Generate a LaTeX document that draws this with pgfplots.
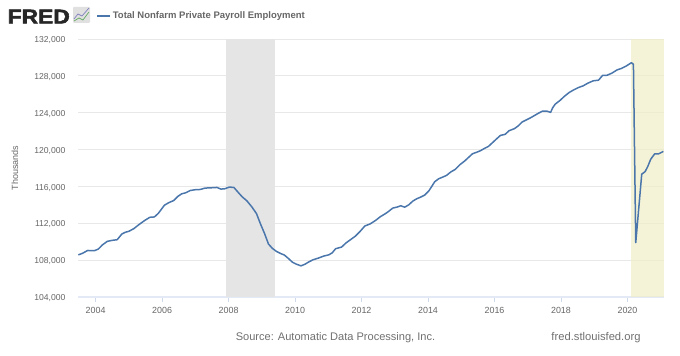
\documentclass[border=0pt]{standalone}
\usepackage{pgfplots}
\pgfplotsset{compat=1.18}
\usepackage{fontspec}
\setmainfont{Liberation Sans}
\newfontfamily\fredf[BoldFeatures={FakeBold=2.5}]{Liberation Sans}
\definecolor{fredblue}{HTML}{4A76AC}
\definecolor{gridc}{HTML}{E8E8E8}
\definecolor{axisc}{HTML}{E4EAF5}
\definecolor{tickc}{HTML}{D0D9EA}
\definecolor{labc}{HTML}{666666}
\definecolor{srcc}{HTML}{707070}
\definecolor{recc}{HTML}{E5E5E5}
\definecolor{yelc}{HTML}{F0EEC8}
\begin{document}
\begin{tikzpicture}[x=1pt,y=1pt]
\path[use as bounding box] (0,0) rectangle (680,356);
\begin{axis}[
  at={(78pt,59pt)}, anchor=south west,
  scale only axis, width=586pt, height=258pt,
  xmin=2003.47, xmax=2021.1, ymin=104000, ymax=132000,
  xtick={2004,2006,...,2020},
  ytick={104000,108000,...,132000},
  scaled y ticks=false,
  /pgf/number format/assume math mode=true,
  /pgf/number format/fixed,
  x tick label style={/pgf/number format/1000 sep={}, font=\fontsize{8.9}{11}\selectfont, text=labc, yshift=-2pt},
  y tick label style={/pgf/number format/1000 sep={,}, font=\fontsize{8.6}{11}\selectfont, text=labc, xshift=-4pt, yshift=-1.2pt},
  ymajorgrids, grid style={gridc, line width=0.9pt},
  axis x line=bottom,
  axis y line=left,
  x axis line style={axisc, line width=1.6pt, -},
  y axis line style={draw=none},
  xtick style={tickc, line width=0.8pt},
  ytick style={draw=none},
  tick align=outside, major tick length=5pt,
  clip=false,
  legend style={draw=none, fill=none, at={(axis description cs:0.031,1.089)}, anchor=west,
    font=\fontsize{9.5}{11}\selectfont\bfseries\color{labc}, inner sep=0pt, row sep=0pt,
    /tikz/every even column/.append style={column sep=3pt}},
  legend image code/.code={\draw[#1] (0pt,0pt) -- (13pt,0pt);},
]
\addplot[draw=none, fill=recc, forget plot] coordinates {(2007.92,104000) (2007.92,132000) (2009.40,132000) (2009.40,104000)} -- cycle;
\addplot[draw=none, fill=yelc, fill opacity=0.72, forget plot] coordinates {(2020.11,104000) (2020.11,132000) (2021.1,132000) (2021.1,104000)} -- cycle;
\addplot[fredblue, line width=1.5pt, line join=round] coordinates {
(2003.48,108580)(2003.6,108730)(2003.76,109050)(2003.96,109020)(2004.08,109200)(2004.2,109640)(2004.35,110040)(2004.5,110150)(2004.65,110220)(2004.79,110840)(2004.89,111020)(2005.0,111130)(2005.15,111420)(2005.29,111820)(2005.47,112290)(2005.63,112650)(2005.77,112690)(2005.89,113090)(2006.07,113960)(2006.19,114220)(2006.35,114470)(2006.47,114910)(2006.59,115200)(2006.71,115310)(2006.85,115560)(2006.99,115640)(2007.15,115670)(2007.29,115820)(2007.47,115850)(2007.65,115890)(2007.77,115710)(2007.89,115750)
(2008.02,115930)(2008.16,115890)(2008.29,115350)(2008.41,114870)(2008.55,114440)(2008.7,113780)(2008.84,113050)(2008.96,111930)(2009.08,110910)(2009.2,109750)(2009.32,109270)(2009.44,108950)(2009.56,108730)(2009.68,108550)(2009.8,108180)(2009.92,107780)(2010.04,107560)(2010.18,107380)(2010.3,107560)(2010.42,107820)(2010.54,108040)(2010.7,108220)(2010.86,108440)(2011.02,108580)(2011.12,108800)(2011.22,109240)(2011.4,109420)(2011.54,109890)(2011.68,110250)(2011.82,110620)(2011.96,111130)(2012.1,111710)(2012.26,111930)(2012.43,112330)(2012.56,112700)(2012.68,112960)(2012.8,113250)
(2012.94,113650)(2013.06,113750)(2013.18,113900)(2013.3,113750)(2013.42,114000)(2013.54,114400)(2013.66,114660)(2013.78,114840)(2013.9,115060)(2014.02,115490)(2014.12,116040)(2014.2,116500)(2014.32,116830)(2014.44,117010)(2014.56,117200)(2014.68,117560)(2014.82,117850)(2014.96,118360)(2015.1,118750)(2015.22,119150)(2015.34,119550)(2015.46,119700)(2015.58,119880)(2015.7,120130)(2015.82,120350)(2015.94,120750)(2016.06,121150)(2016.18,121540)(2016.32,121650)(2016.44,122050)
(2016.6,122270)(2016.71,122560)(2016.83,122990)(2016.97,123240)(2017.09,123460)(2017.21,123710)(2017.33,123960)(2017.45,124180)(2017.57,124180)(2017.69,124040)(2017.75,124540)(2017.83,124940)(2017.97,125330)(2018.11,125800)(2018.25,126200)(2018.39,126490)(2018.53,126740)(2018.67,126920)(2018.81,127210)(2018.97,127460)(2019.13,127530)(2019.25,128040)(2019.37,128040)(2019.53,128290)(2019.69,128650)(2019.81,128790)(2019.97,129080)(2020.12,129430)(2020.18,129250)(2020.25,109900)(2020.43,117330)(2020.53,117600)(2020.61,118150)(2020.7,118950)(2020.82,119540)(2020.94,119540)(2021.08,119800)
};
\addlegendentry{Total Nonfarm Private Payroll Employment}
\end{axis}
\node[rotate=90, font=\fontsize{9}{11}\selectfont, text=labc] at (15,188) {Thousands};
\node[anchor=base west, font=\fontsize{20}{22}\selectfont\fredf\bfseries, text=black!85, inner sep=0pt, xscale=1.14] at (7.5,332.5) {FRED};
\begin{scope}
\fill[black!12, rounded corners=1pt] (73,333) rectangle (90,349);
\draw[green!45!black!60, line width=0.7pt] (74,335) -- (79,338) -- (83,336) -- (89,344);
\draw[blue!50!black!50, line width=0.7pt] (74,337) -- (78,342) -- (82,340) -- (89,348);
\end{scope}
\node[anchor=base, font=\fontsize{11.05}{14}\selectfont, text=srcc, inner sep=0pt] at (335.5,16) {Source: Automatic Data Processing, Inc.};
\node[anchor=base, font=\fontsize{11.2}{14}\selectfont, text=srcc, inner sep=0pt] at (596,16) {fred.stlouisfed.org};
\end{tikzpicture}
\end{document}
